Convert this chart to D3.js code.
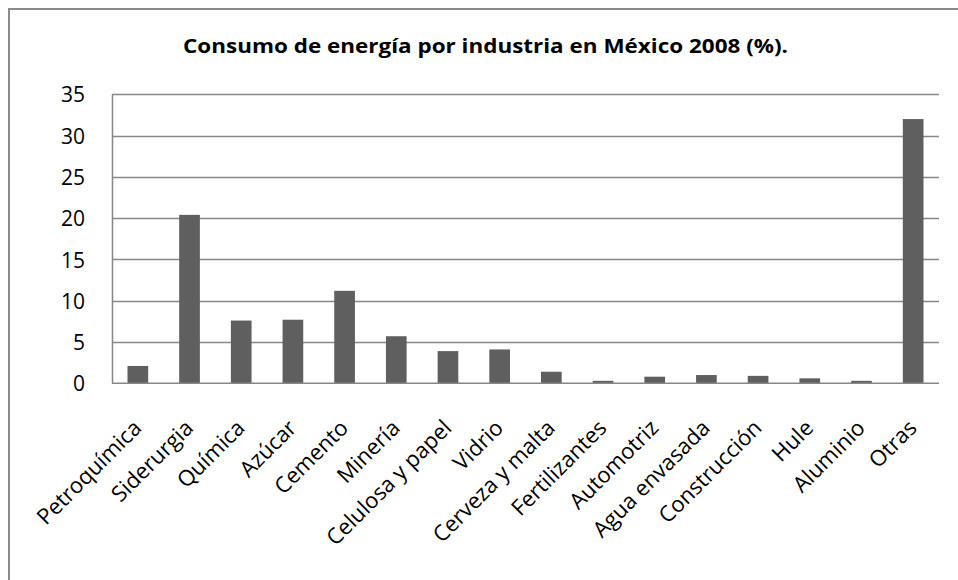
<!DOCTYPE html>
<html>
<head>
<meta charset="utf-8">
<script src="https://cdn.jsdelivr.net/npm/d3@7"></script>
<style>
  html, body { margin: 0; padding: 0; background: #ffffff; }
  svg { display: block; }
</style>
</head>
<body>
<svg id="chart" width="958" height="580"></svg>
<script>
const categories = ["Petroquímica", "Siderurgia", "Química", "Azúcar", "Cemento", "Minería",
  "Celulosa y papel", "Vidrio", "Cerveza y malta", "Fertilizantes", "Automotriz",
  "Agua envasada", "Construcción", "Hule", "Aluminio", "Otras"];
const values = [2.1, 20.4, 7.6, 7.7, 11.2, 5.7, 3.9, 4.1, 1.4, 0.3, 0.8, 1.0, 0.9, 0.6, 0.3, 32.0];
const yTicks = [0, 5, 10, 15, 20, 25, 30, 35];
const titleText = "Consumo de energía por industria en México 2008 (%).";

const svg = d3.select("#chart");
const plot = { left: 112, right: 939, top: 94.3, bottom: 383.3 };
const FONT = "'Open Sans', 'Noto Sans', sans-serif";

// outer chart border (extends beyond the right/bottom of the picture)
svg.append("rect")
  .attr("x", 9).attr("y", 9)
  .attr("width", 980).attr("height", 600)
  .attr("fill", "#ffffff")
  .attr("stroke", "#8a8a8a").attr("stroke-width", 2);

const x = d3.scaleBand()
  .domain(categories)
  .range([plot.left, plot.right])
  .paddingInner(0.6)
  .paddingOuter(0.3);

const y = d3.scaleLinear()
  .domain([0, 35])
  .range([plot.bottom, plot.top]);

// gridlines
svg.append("g")
  .selectAll("line")
  .data(yTicks.filter(d => d > 0))
  .join("line")
  .attr("x1", plot.left).attr("x2", plot.right)
  .attr("y1", d => Math.round(y(d)) + 0.5).attr("y2", d => Math.round(y(d)) + 0.5)
  .attr("stroke", "#878787").attr("stroke-width", 1.3);

// bars
svg.append("g")
  .selectAll("rect")
  .data(values)
  .join("rect")
  .attr("x", (d, i) => x(categories[i]))
  .attr("width", x.bandwidth())
  .attr("y", d => y(d))
  .attr("height", d => y(0) - y(d))
  .attr("fill", "#5f5f5f");

// y axis
const yAxis = d3.axisLeft(y).tickValues(yTicks).tickSize(0).tickPadding(0).tickFormat(d3.format("d"));
const yg = svg.append("g").attr("transform", `translate(${plot.left},0)`).call(yAxis);
yg.select(".domain").remove();
yg.selectAll("text")
  .attr("x", -27)
  .attr("dy", "0.36em")
  .style("font-family", FONT)
  .style("font-size", "21px")
  .attr("fill", "#000");

// axis lines
svg.append("line")
  .attr("x1", plot.left + 0.5).attr("x2", plot.left + 0.5)
  .attr("y1", plot.top).attr("y2", plot.bottom)
  .attr("stroke", "#878787").attr("stroke-width", 1.5);
svg.append("line")
  .attr("x1", plot.left).attr("x2", plot.right)
  .attr("y1", plot.bottom).attr("y2", plot.bottom)
  .attr("stroke", "#878787").attr("stroke-width", 1.5);

// x axis labels
const xAxis = d3.axisBottom(x).tickSize(0).tickPadding(0);
const xg = svg.append("g").attr("transform", `translate(0,${plot.bottom})`).call(xAxis);
xg.select(".domain").remove();
xg.selectAll(".tick text")
  .attr("y", 0).attr("dy", 0)
  .attr("text-anchor", "end")
  .attr("transform", "translate(5,46) rotate(-45)")
  .style("font-family", FONT)
  .style("font-size", "22px")
  .attr("fill", "#000");

// title
svg.append("text")
  .attr("x", 485.5).attr("y", 53)
  .attr("text-anchor", "middle")
  .attr("textLength", 605)
  .attr("lengthAdjust", "spacingAndGlyphs")
  .style("font-family", FONT)
  .style("font-weight", "bold")
  .style("font-size", "19px")
  .attr("fill", "#000")
  .text(titleText);
</script>
</body>
</html>
